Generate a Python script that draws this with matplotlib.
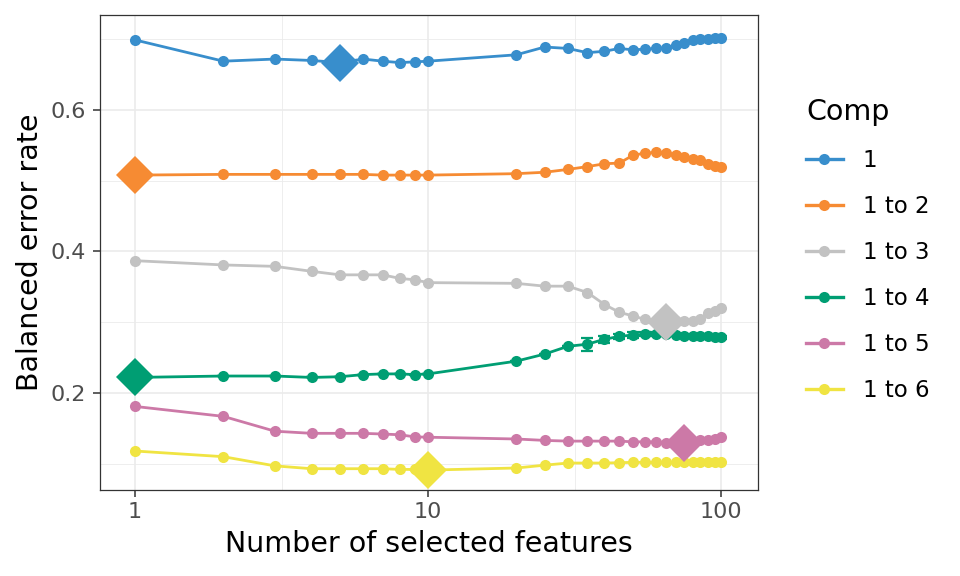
"""
Tuning plot: balanced error rate vs number of selected features per component.
"""
import numpy as np
import matplotlib
matplotlib.use('Agg')
import matplotlib.pyplot as plt
from matplotlib.lines import Line2D

plt.rcParams['font.family'] = ['DejaVu Sans']

# Data
n_features = [1, 2, 3, 4, 5, 6, 7, 8, 9, 10, 20, 25, 30, 35, 40, 45, 50,
              55, 60, 65, 70, 75, 80, 85, 90, 95, 100]

comp_labels = ['1', '1 to 2', '1 to 3', '1 to 4', '1 to 5', '1 to 6']
comp_colors = ['#388ECC', '#F68B33', '#C2C2C2', '#009E73', '#CC79A7', '#F0E442']

ber_comp1 = [0.699, 0.669, 0.672, 0.670, 0.667, 0.672, 0.669, 0.667, 0.668, 0.669,
             0.678, 0.689, 0.687, 0.681, 0.683, 0.687, 0.685, 0.686, 0.687, 0.688,
             0.692, 0.695, 0.699, 0.701, 0.701, 0.702, 0.702]
ber_comp2 = [0.508, 0.509, 0.509, 0.509, 0.509, 0.509, 0.508, 0.508, 0.508, 0.508,
             0.510, 0.512, 0.516, 0.520, 0.524, 0.525, 0.536, 0.539, 0.540, 0.539,
             0.536, 0.533, 0.531, 0.530, 0.523, 0.521, 0.519]
ber_comp3 = [0.387, 0.381, 0.379, 0.372, 0.367, 0.367, 0.367, 0.362, 0.360, 0.356,
             0.355, 0.351, 0.351, 0.342, 0.325, 0.314, 0.309, 0.304, 0.302, 0.300,
             0.302, 0.302, 0.302, 0.304, 0.313, 0.316, 0.320]
ber_comp4 = [0.222, 0.224, 0.224, 0.222, 0.223, 0.226, 0.227, 0.227, 0.226, 0.227,
             0.245, 0.255, 0.266, 0.269, 0.276, 0.280, 0.282, 0.283, 0.283, 0.283,
             0.282, 0.281, 0.280, 0.280, 0.280, 0.279, 0.279]
ber_comp5 = [0.181, 0.167, 0.146, 0.143, 0.143, 0.143, 0.142, 0.141, 0.138, 0.1375,
             0.135, 0.133, 0.132, 0.132, 0.132, 0.132, 0.131, 0.131, 0.131, 0.130,
             0.130, 0.129, 0.131, 0.133, 0.134, 0.135, 0.1375]
ber_comp6 = [0.118, 0.110, 0.097, 0.093, 0.093, 0.093, 0.093, 0.092, 0.092, 0.091,
             0.094, 0.098, 0.101, 0.101, 0.101, 0.1015, 0.102, 0.102, 0.102, 0.102,
             0.102, 0.102, 0.102, 0.102, 0.102, 0.102, 0.102]

# standard deviation (only visible on comp 1 to 4)
sd_comp4 = [0, 0, 0, 0, 0, 0, 0, 0, 0, 0,
            0, 0, 0, 0.009, 0.005, 0.004, 0.004, 0.003, 0.003, 0.002,
            0.002, 0.002, 0.002, 0.002, 0.002, 0.002, 0.002]

# optimal number of features per component
best_keepx = [5, 1, 65, 1, 75, 10]

all_ber = [ber_comp1, ber_comp2, ber_comp3, ber_comp4, ber_comp5, ber_comp6]

fig = plt.figure(figsize=(9.6, 5.76), dpi=100)
ax = fig.add_axes([0.1042, 0.1493, 0.6854, 0.8247])

ax.set_xscale('log')
ax.set_xlim(0.759, 133.7)
ax.set_ylim(0.0629, 0.7343)

# ggplot-like grid
ax.set_xticks([1, 10, 100])
ax.set_xticklabels(['1', '10', '100'])
ax.set_xticks([10 ** 0.5, 10 ** 1.5], minor=True)
ax.set_yticks([0.2, 0.4, 0.6])
ax.set_yticklabels(['0.2', '0.4', '0.6'])
ax.set_yticks([0.1, 0.3, 0.5, 0.7], minor=True)
ax.grid(which='major', color='#EBEBEB', linewidth=1.2, zorder=0)
ax.grid(which='minor', color='#EBEBEB', linewidth=0.6, zorder=0)
ax.set_axisbelow(True)
ax.tick_params(which='major', length=5, width=1.1, color='#333333',
               labelsize=16, labelcolor='#4D4D4D')
ax.tick_params(axis='x', pad=3.5)
ax.tick_params(axis='y', pad=5)
ax.tick_params(which='minor', length=0)
for sp in ax.spines.values():
    sp.set_color('#333333')
    sp.set_linewidth(0.9)

for ber, col in zip(all_ber, comp_colors):
    ax.plot(n_features, ber, color=col, linewidth=2.0, marker='o',
            markersize=8, markeredgewidth=0, zorder=3)

ax.errorbar(n_features, ber_comp4, yerr=sd_comp4, fmt='none',
            ecolor=comp_colors[3], elinewidth=1.6, capsize=4, capthick=1.6, zorder=3)

# optimal points as big diamonds
for ber, col, kx in zip(all_ber, comp_colors, best_keepx):
    i = n_features.index(kx)
    ax.plot([kx], [ber[i]], linestyle='none', marker='D', markersize=19.5,
            color=col, markeredgewidth=0, zorder=4)

ax.set_xlabel('Number of selected features', fontsize=20.5, labelpad=6)
ax.set_ylabel('Balanced error rate', fontsize=20.5, labelpad=5)

handles = [Line2D([0], [0], color=c, linewidth=2.4, marker='o', markersize=8,
                  markeredgewidth=0) for c in comp_colors]
leg = fig.legend(handles, comp_labels, title='Comp', loc='upper left',
                 bbox_to_anchor=(0.830, 0.845), frameon=False, fontsize=16.5,
                 title_fontsize=20.5, labelspacing=1.0, handlelength=1.6,
                 handletextpad=0.87, alignment='left', borderaxespad=0)

plt.savefig('out.png', dpi=100)
plt.close()
